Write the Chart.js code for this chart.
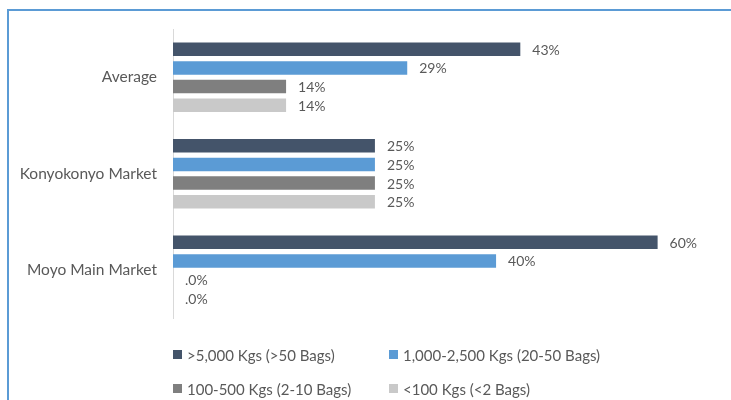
<!DOCTYPE html>
<html>
<head>
<meta charset="utf-8">
<script src="https://cdn.jsdelivr.net/npm/chart.js@4.4.1/dist/chart.umd.min.js"></script>
<style>
  html, body { margin: 0; padding: 0; background: #fff; }
  #wrap { position: relative; width: 731px; height: 400px; overflow: hidden; background: #fff; }
  #frame { position: absolute; left: 7px; top: 9px; right: -10px; bottom: -10px;
           border-left: 2px solid #5b9bd5; border-top: 2px solid #5b9bd5; }
  #chart { position: absolute; left: 0; top: 0; }
  .leg { position: absolute; font: 15px Lato, sans-serif; color: #595959; white-space: nowrap; line-height: 16px; }
  .leg span.box { position: absolute; left: 0; top: 3px; width: 9px; height: 9px; }
  .leg span.txt { position: absolute; left: 14px; top: 0; }
</style>
</head>
<body>
<div id="wrap">
  <div id="frame"></div>
  <canvas id="chart" width="731" height="400"></canvas>
  <div id="legend"></div>
</div>
<script>
var markets = ['Average', 'Konyokonyo Market', 'Moyo Main Market'];
var sizeLabels = ['>5,000 Kgs (>50 Bags)', '1,000-2,500 Kgs (20-50 Bags)', '100-500 Kgs (2-10 Bags)', '<100 Kgs (<2 Bags)'];
var sizeColors = ['#44546a', '#5b9bd5', '#7f7f7f', '#c9c9c9'];

// share of traders per volume bracket, %
var over5000 = [43, 25, 60];
var from1000to2500 = [29, 25, 40];
var from100to500 = [14, 25, 0];
var under100 = [14, 25, 0];

var series = [over5000, from1000to2500, from100to500, under100];

function fmtPct(v) {
  return v === 0 ? '.0%' : v + '%';
}

// value text at the end of each bar
var barValues = {
  id: 'barValues',
  afterDatasetsDraw: function(chart) {
    var ctx = chart.ctx;
    ctx.save();
    ctx.font = '14px Lato, sans-serif';
    ctx.fillStyle = '#595959';
    ctx.textAlign = 'left';
    ctx.textBaseline = 'middle';
    chart.data.datasets.forEach(function(ds, i) {
      chart.getDatasetMeta(i).data.forEach(function(bar, j) {
        ctx.fillText(fmtPct(ds.data[j]), bar.x + 12, bar.y + 1);
      });
    });
    ctx.restore();
  }
};

function draw() {
  var datasets = series.map(function(vals, i) {
    return {
      label: sizeLabels[i],
      data: vals,
      backgroundColor: sizeColors[i],
      borderWidth: 0,
      categoryPercentage: 0.775,
      barPercentage: 0.72
    };
  });

  var chart = new Chart(document.getElementById('chart'), {
    type: 'bar',
    data: { labels: markets, datasets: datasets },
    plugins: [barValues],
    options: {
      indexAxis: 'y',
      responsive: false,
      animation: false,
      layout: { padding: { left: 0, right: 33, top: 29, bottom: 81.5 } },
      plugins: { legend: { display: false }, tooltip: { enabled: false } },
      scales: {
        x: { display: false, min: 0, max: 65 },
        y: {
          grid: { display: false, drawTicks: false },
          border: { display: true, color: '#d9d9d9', width: 1 },
          ticks: { color: '#595959', font: { family: 'Lato', size: 15.5 }, padding: 16 },
          afterFit: function(scale) { scale.width = 173; }
        }
      }
    }
  });

  // two-column legend under the plot
  var legend = document.getElementById('legend');
  var cols = [173, 389];
  var rows = [347, 381];
  chart.data.datasets.forEach(function(ds, i) {
    var item = document.createElement('div');
    item.className = 'leg';
    item.style.left = cols[i % 2] + 'px';
    item.style.top = rows[Math.floor(i / 2)] + 'px';
    var box = document.createElement('span');
    box.className = 'box';
    box.style.background = ds.backgroundColor;
    var txt = document.createElement('span');
    txt.className = 'txt';
    txt.textContent = ds.label;
    item.appendChild(box);
    item.appendChild(txt);
    legend.appendChild(item);
  });
}

if (document.fonts && document.fonts.load) {
  document.fonts.load('14px Lato').then(draw, draw);
} else {
  draw();
}
</script>
</body>
</html>
